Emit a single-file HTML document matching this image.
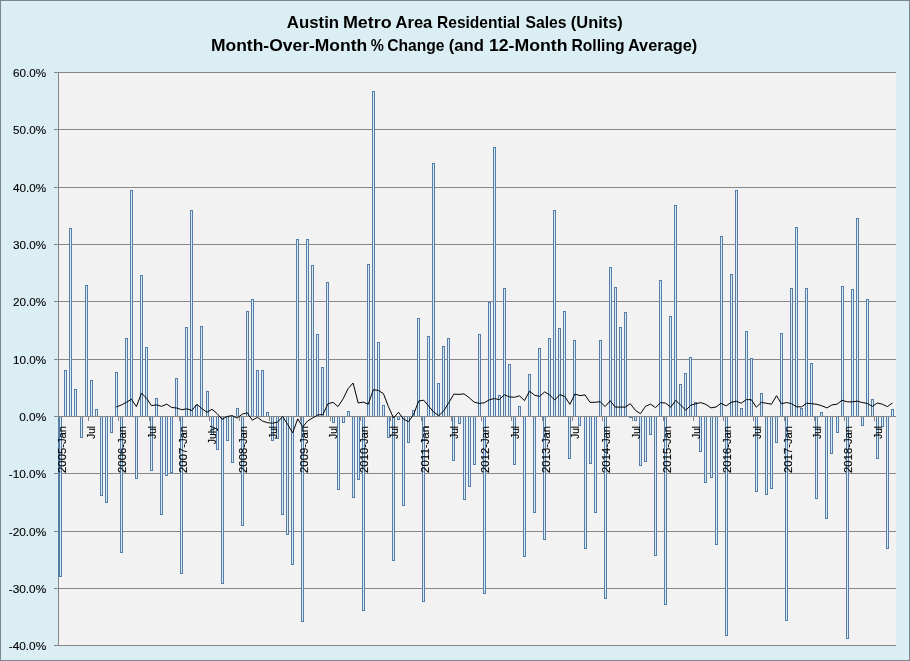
<!DOCTYPE html>
<html><head><meta charset="utf-8"><title>Austin Metro Area Residential Sales (Units)</title>
<style>html,body{margin:0;padding:0;background:#dbeef4;}body{width:910px;height:661px;overflow:hidden}</style>
</head><body>
<svg width="910" height="661" viewBox="0 0 910 661" style="display:block">
<rect x="0" y="0" width="910" height="661" fill="#7b878b"/>
<rect x="1" y="1" width="908" height="659" fill="#dbeef4"/>
<rect x="58" y="72" width="838" height="574" fill="#f2f2f2"/>
<g shape-rendering="crispEdges">
<rect x="54" y="72" width="842" height="1" fill="#868686"/>
<rect x="54" y="129" width="842" height="1" fill="#868686"/>
<rect x="54" y="187" width="842" height="1" fill="#868686"/>
<rect x="54" y="244" width="842" height="1" fill="#868686"/>
<rect x="54" y="301" width="842" height="1" fill="#868686"/>
<rect x="54" y="359" width="842" height="1" fill="#868686"/>
<rect x="54" y="416" width="842" height="1" fill="#868686"/>
<rect x="54" y="473" width="842" height="1" fill="#868686"/>
<rect x="54" y="531" width="842" height="1" fill="#868686"/>
<rect x="54" y="588" width="842" height="1" fill="#868686"/>
<rect x="54" y="645" width="842" height="1" fill="#868686"/>
<rect x="58" y="72" width="1" height="574" fill="#868686"/>
<rect x="58" y="416" width="1" height="5" fill="#868686"/>
<rect x="88" y="416" width="1" height="5" fill="#868686"/>
<rect x="118" y="416" width="1" height="5" fill="#868686"/>
<rect x="149" y="416" width="1" height="5" fill="#868686"/>
<rect x="179" y="416" width="1" height="5" fill="#868686"/>
<rect x="209" y="416" width="1" height="5" fill="#868686"/>
<rect x="239" y="416" width="1" height="5" fill="#868686"/>
<rect x="269" y="416" width="1" height="5" fill="#868686"/>
<rect x="300" y="416" width="1" height="5" fill="#868686"/>
<rect x="330" y="416" width="1" height="5" fill="#868686"/>
<rect x="360" y="416" width="1" height="5" fill="#868686"/>
<rect x="390" y="416" width="1" height="5" fill="#868686"/>
<rect x="421" y="416" width="1" height="5" fill="#868686"/>
<rect x="451" y="416" width="1" height="5" fill="#868686"/>
<rect x="481" y="416" width="1" height="5" fill="#868686"/>
<rect x="511" y="416" width="1" height="5" fill="#868686"/>
<rect x="542" y="416" width="1" height="5" fill="#868686"/>
<rect x="572" y="416" width="1" height="5" fill="#868686"/>
<rect x="602" y="416" width="1" height="5" fill="#868686"/>
<rect x="632" y="416" width="1" height="5" fill="#868686"/>
<rect x="663" y="416" width="1" height="5" fill="#868686"/>
<rect x="693" y="416" width="1" height="5" fill="#868686"/>
<rect x="723" y="416" width="1" height="5" fill="#868686"/>
<rect x="753" y="416" width="1" height="5" fill="#868686"/>
<rect x="784" y="416" width="1" height="5" fill="#868686"/>
<rect x="814" y="416" width="1" height="5" fill="#868686"/>
<rect x="844" y="416" width="1" height="5" fill="#868686"/>
<rect x="874" y="416" width="1" height="5" fill="#868686"/>
<rect x="59" y="417" width="3" height="160" fill="#577da7"/>
<rect x="60" y="417" width="1" height="159" fill="#d0ecfa"/>
<rect x="58" y="417" width="1" height="160" fill="#577da7"/>
<rect x="64" y="370" width="3" height="46" fill="#577da7"/>
<rect x="65" y="371" width="1" height="45" fill="#d0ecfa"/>
<rect x="69" y="228" width="3" height="188" fill="#577da7"/>
<rect x="70" y="229" width="1" height="187" fill="#d0ecfa"/>
<rect x="74" y="389" width="3" height="27" fill="#577da7"/>
<rect x="75" y="390" width="1" height="26" fill="#d0ecfa"/>
<rect x="80" y="417" width="3" height="21" fill="#577da7"/>
<rect x="81" y="417" width="1" height="20" fill="#d0ecfa"/>
<rect x="85" y="285" width="3" height="131" fill="#577da7"/>
<rect x="86" y="286" width="1" height="130" fill="#d0ecfa"/>
<rect x="90" y="380" width="3" height="36" fill="#577da7"/>
<rect x="91" y="381" width="1" height="35" fill="#d0ecfa"/>
<rect x="95" y="409" width="3" height="7" fill="#577da7"/>
<rect x="96" y="410" width="1" height="6" fill="#d0ecfa"/>
<rect x="100" y="417" width="3" height="79" fill="#577da7"/>
<rect x="101" y="417" width="1" height="78" fill="#d0ecfa"/>
<rect x="105" y="417" width="3" height="86" fill="#577da7"/>
<rect x="106" y="417" width="1" height="85" fill="#d0ecfa"/>
<rect x="110" y="417" width="3" height="16" fill="#577da7"/>
<rect x="111" y="417" width="1" height="15" fill="#d0ecfa"/>
<rect x="115" y="372" width="3" height="44" fill="#577da7"/>
<rect x="116" y="373" width="1" height="43" fill="#d0ecfa"/>
<rect x="120" y="417" width="3" height="136" fill="#577da7"/>
<rect x="121" y="417" width="1" height="135" fill="#d0ecfa"/>
<rect x="125" y="338" width="3" height="78" fill="#577da7"/>
<rect x="126" y="339" width="1" height="77" fill="#d0ecfa"/>
<rect x="130" y="190" width="3" height="226" fill="#577da7"/>
<rect x="131" y="191" width="1" height="225" fill="#d0ecfa"/>
<rect x="135" y="417" width="3" height="62" fill="#577da7"/>
<rect x="136" y="417" width="1" height="61" fill="#d0ecfa"/>
<rect x="140" y="275" width="3" height="141" fill="#577da7"/>
<rect x="141" y="276" width="1" height="140" fill="#d0ecfa"/>
<rect x="145" y="347" width="3" height="69" fill="#577da7"/>
<rect x="146" y="348" width="1" height="68" fill="#d0ecfa"/>
<rect x="150" y="417" width="3" height="54" fill="#577da7"/>
<rect x="151" y="417" width="1" height="53" fill="#d0ecfa"/>
<rect x="155" y="398" width="3" height="18" fill="#577da7"/>
<rect x="156" y="399" width="1" height="17" fill="#d0ecfa"/>
<rect x="160" y="417" width="3" height="98" fill="#577da7"/>
<rect x="161" y="417" width="1" height="97" fill="#d0ecfa"/>
<rect x="165" y="417" width="3" height="59" fill="#577da7"/>
<rect x="166" y="417" width="1" height="58" fill="#d0ecfa"/>
<rect x="170" y="417" width="3" height="56" fill="#577da7"/>
<rect x="171" y="417" width="1" height="55" fill="#d0ecfa"/>
<rect x="175" y="378" width="3" height="38" fill="#577da7"/>
<rect x="176" y="379" width="1" height="37" fill="#d0ecfa"/>
<rect x="180" y="417" width="3" height="157" fill="#577da7"/>
<rect x="181" y="417" width="1" height="156" fill="#d0ecfa"/>
<rect x="185" y="327" width="3" height="89" fill="#577da7"/>
<rect x="186" y="328" width="1" height="88" fill="#d0ecfa"/>
<rect x="190" y="210" width="3" height="206" fill="#577da7"/>
<rect x="191" y="211" width="1" height="205" fill="#d0ecfa"/>
<rect x="195" y="405" width="3" height="11" fill="#577da7"/>
<rect x="196" y="406" width="1" height="10" fill="#d0ecfa"/>
<rect x="200" y="326" width="3" height="90" fill="#577da7"/>
<rect x="201" y="327" width="1" height="89" fill="#d0ecfa"/>
<rect x="206" y="391" width="3" height="25" fill="#577da7"/>
<rect x="207" y="392" width="1" height="24" fill="#d0ecfa"/>
<rect x="211" y="417" width="3" height="18" fill="#577da7"/>
<rect x="212" y="417" width="1" height="17" fill="#d0ecfa"/>
<rect x="216" y="417" width="3" height="33" fill="#577da7"/>
<rect x="217" y="417" width="1" height="32" fill="#d0ecfa"/>
<rect x="221" y="417" width="3" height="167" fill="#577da7"/>
<rect x="222" y="417" width="1" height="166" fill="#d0ecfa"/>
<rect x="226" y="417" width="3" height="24" fill="#577da7"/>
<rect x="227" y="417" width="1" height="23" fill="#d0ecfa"/>
<rect x="231" y="417" width="3" height="46" fill="#577da7"/>
<rect x="232" y="417" width="1" height="45" fill="#d0ecfa"/>
<rect x="236" y="408" width="3" height="8" fill="#577da7"/>
<rect x="237" y="409" width="1" height="7" fill="#d0ecfa"/>
<rect x="241" y="417" width="3" height="109" fill="#577da7"/>
<rect x="242" y="417" width="1" height="108" fill="#d0ecfa"/>
<rect x="246" y="311" width="3" height="105" fill="#577da7"/>
<rect x="247" y="312" width="1" height="104" fill="#d0ecfa"/>
<rect x="251" y="299" width="3" height="117" fill="#577da7"/>
<rect x="252" y="300" width="1" height="116" fill="#d0ecfa"/>
<rect x="256" y="370" width="3" height="46" fill="#577da7"/>
<rect x="257" y="371" width="1" height="45" fill="#d0ecfa"/>
<rect x="261" y="370" width="3" height="46" fill="#577da7"/>
<rect x="262" y="371" width="1" height="45" fill="#d0ecfa"/>
<rect x="266" y="412" width="3" height="4" fill="#577da7"/>
<rect x="267" y="413" width="1" height="3" fill="#d0ecfa"/>
<rect x="271" y="417" width="3" height="24" fill="#577da7"/>
<rect x="272" y="417" width="1" height="23" fill="#d0ecfa"/>
<rect x="276" y="417" width="3" height="22" fill="#577da7"/>
<rect x="277" y="417" width="1" height="21" fill="#d0ecfa"/>
<rect x="281" y="417" width="3" height="98" fill="#577da7"/>
<rect x="282" y="417" width="1" height="97" fill="#d0ecfa"/>
<rect x="286" y="417" width="3" height="118" fill="#577da7"/>
<rect x="287" y="417" width="1" height="117" fill="#d0ecfa"/>
<rect x="291" y="417" width="3" height="148" fill="#577da7"/>
<rect x="292" y="417" width="1" height="147" fill="#d0ecfa"/>
<rect x="296" y="239" width="3" height="177" fill="#577da7"/>
<rect x="297" y="240" width="1" height="176" fill="#d0ecfa"/>
<rect x="301" y="417" width="3" height="205" fill="#577da7"/>
<rect x="302" y="417" width="1" height="204" fill="#d0ecfa"/>
<rect x="306" y="239" width="3" height="177" fill="#577da7"/>
<rect x="307" y="240" width="1" height="176" fill="#d0ecfa"/>
<rect x="311" y="265" width="3" height="151" fill="#577da7"/>
<rect x="312" y="266" width="1" height="150" fill="#d0ecfa"/>
<rect x="316" y="334" width="3" height="82" fill="#577da7"/>
<rect x="317" y="335" width="1" height="81" fill="#d0ecfa"/>
<rect x="321" y="367" width="3" height="49" fill="#577da7"/>
<rect x="322" y="368" width="1" height="48" fill="#d0ecfa"/>
<rect x="326" y="282" width="3" height="134" fill="#577da7"/>
<rect x="327" y="283" width="1" height="133" fill="#d0ecfa"/>
<rect x="332" y="417" width="3" height="6" fill="#577da7"/>
<rect x="333" y="417" width="1" height="5" fill="#d0ecfa"/>
<rect x="337" y="417" width="3" height="73" fill="#577da7"/>
<rect x="338" y="417" width="1" height="72" fill="#d0ecfa"/>
<rect x="342" y="417" width="3" height="6" fill="#577da7"/>
<rect x="343" y="417" width="1" height="5" fill="#d0ecfa"/>
<rect x="347" y="411" width="3" height="5" fill="#577da7"/>
<rect x="348" y="412" width="1" height="4" fill="#d0ecfa"/>
<rect x="352" y="417" width="3" height="81" fill="#577da7"/>
<rect x="353" y="417" width="1" height="80" fill="#d0ecfa"/>
<rect x="357" y="417" width="3" height="63" fill="#577da7"/>
<rect x="358" y="417" width="1" height="62" fill="#d0ecfa"/>
<rect x="362" y="417" width="3" height="194" fill="#577da7"/>
<rect x="363" y="417" width="1" height="193" fill="#d0ecfa"/>
<rect x="367" y="264" width="3" height="152" fill="#577da7"/>
<rect x="368" y="265" width="1" height="151" fill="#d0ecfa"/>
<rect x="372" y="91" width="3" height="325" fill="#577da7"/>
<rect x="373" y="92" width="1" height="324" fill="#d0ecfa"/>
<rect x="377" y="342" width="3" height="74" fill="#577da7"/>
<rect x="378" y="343" width="1" height="73" fill="#d0ecfa"/>
<rect x="382" y="405" width="3" height="11" fill="#577da7"/>
<rect x="383" y="406" width="1" height="10" fill="#d0ecfa"/>
<rect x="387" y="417" width="3" height="21" fill="#577da7"/>
<rect x="388" y="417" width="1" height="20" fill="#d0ecfa"/>
<rect x="392" y="417" width="3" height="144" fill="#577da7"/>
<rect x="393" y="417" width="1" height="143" fill="#d0ecfa"/>
<rect x="397" y="417" width="3" height="3" fill="#577da7"/>
<rect x="398" y="417" width="1" height="2" fill="#d0ecfa"/>
<rect x="402" y="417" width="3" height="89" fill="#577da7"/>
<rect x="403" y="417" width="1" height="88" fill="#d0ecfa"/>
<rect x="407" y="417" width="3" height="26" fill="#577da7"/>
<rect x="408" y="417" width="1" height="25" fill="#d0ecfa"/>
<rect x="412" y="410" width="3" height="6" fill="#577da7"/>
<rect x="413" y="411" width="1" height="5" fill="#d0ecfa"/>
<rect x="417" y="318" width="3" height="98" fill="#577da7"/>
<rect x="418" y="319" width="1" height="97" fill="#d0ecfa"/>
<rect x="422" y="417" width="3" height="185" fill="#577da7"/>
<rect x="423" y="417" width="1" height="184" fill="#d0ecfa"/>
<rect x="427" y="336" width="3" height="80" fill="#577da7"/>
<rect x="428" y="337" width="1" height="79" fill="#d0ecfa"/>
<rect x="432" y="163" width="3" height="253" fill="#577da7"/>
<rect x="433" y="164" width="1" height="252" fill="#d0ecfa"/>
<rect x="437" y="383" width="3" height="33" fill="#577da7"/>
<rect x="438" y="384" width="1" height="32" fill="#d0ecfa"/>
<rect x="442" y="346" width="3" height="70" fill="#577da7"/>
<rect x="443" y="347" width="1" height="69" fill="#d0ecfa"/>
<rect x="447" y="338" width="3" height="78" fill="#577da7"/>
<rect x="448" y="339" width="1" height="77" fill="#d0ecfa"/>
<rect x="452" y="417" width="3" height="44" fill="#577da7"/>
<rect x="453" y="417" width="1" height="43" fill="#d0ecfa"/>
<rect x="458" y="417" width="3" height="7" fill="#577da7"/>
<rect x="459" y="417" width="1" height="6" fill="#d0ecfa"/>
<rect x="463" y="417" width="3" height="83" fill="#577da7"/>
<rect x="464" y="417" width="1" height="82" fill="#d0ecfa"/>
<rect x="468" y="417" width="3" height="70" fill="#577da7"/>
<rect x="469" y="417" width="1" height="69" fill="#d0ecfa"/>
<rect x="473" y="417" width="3" height="48" fill="#577da7"/>
<rect x="474" y="417" width="1" height="47" fill="#d0ecfa"/>
<rect x="478" y="334" width="3" height="82" fill="#577da7"/>
<rect x="479" y="335" width="1" height="81" fill="#d0ecfa"/>
<rect x="483" y="417" width="3" height="177" fill="#577da7"/>
<rect x="484" y="417" width="1" height="176" fill="#d0ecfa"/>
<rect x="488" y="302" width="3" height="114" fill="#577da7"/>
<rect x="489" y="303" width="1" height="113" fill="#d0ecfa"/>
<rect x="493" y="147" width="3" height="269" fill="#577da7"/>
<rect x="494" y="148" width="1" height="268" fill="#d0ecfa"/>
<rect x="498" y="395" width="3" height="21" fill="#577da7"/>
<rect x="499" y="396" width="1" height="20" fill="#d0ecfa"/>
<rect x="503" y="288" width="3" height="128" fill="#577da7"/>
<rect x="504" y="289" width="1" height="127" fill="#d0ecfa"/>
<rect x="508" y="364" width="3" height="52" fill="#577da7"/>
<rect x="509" y="365" width="1" height="51" fill="#d0ecfa"/>
<rect x="513" y="417" width="3" height="48" fill="#577da7"/>
<rect x="514" y="417" width="1" height="47" fill="#d0ecfa"/>
<rect x="518" y="406" width="3" height="10" fill="#577da7"/>
<rect x="519" y="407" width="1" height="9" fill="#d0ecfa"/>
<rect x="523" y="417" width="3" height="140" fill="#577da7"/>
<rect x="524" y="417" width="1" height="139" fill="#d0ecfa"/>
<rect x="528" y="374" width="3" height="42" fill="#577da7"/>
<rect x="529" y="375" width="1" height="41" fill="#d0ecfa"/>
<rect x="533" y="417" width="3" height="96" fill="#577da7"/>
<rect x="534" y="417" width="1" height="95" fill="#d0ecfa"/>
<rect x="538" y="348" width="3" height="68" fill="#577da7"/>
<rect x="539" y="349" width="1" height="67" fill="#d0ecfa"/>
<rect x="543" y="417" width="3" height="123" fill="#577da7"/>
<rect x="544" y="417" width="1" height="122" fill="#d0ecfa"/>
<rect x="548" y="338" width="3" height="78" fill="#577da7"/>
<rect x="549" y="339" width="1" height="77" fill="#d0ecfa"/>
<rect x="553" y="210" width="3" height="206" fill="#577da7"/>
<rect x="554" y="211" width="1" height="205" fill="#d0ecfa"/>
<rect x="558" y="328" width="3" height="88" fill="#577da7"/>
<rect x="559" y="329" width="1" height="87" fill="#d0ecfa"/>
<rect x="563" y="311" width="3" height="105" fill="#577da7"/>
<rect x="564" y="312" width="1" height="104" fill="#d0ecfa"/>
<rect x="568" y="417" width="3" height="42" fill="#577da7"/>
<rect x="569" y="417" width="1" height="41" fill="#d0ecfa"/>
<rect x="573" y="340" width="3" height="76" fill="#577da7"/>
<rect x="574" y="341" width="1" height="75" fill="#d0ecfa"/>
<rect x="578" y="417" width="3" height="9" fill="#577da7"/>
<rect x="579" y="417" width="1" height="8" fill="#d0ecfa"/>
<rect x="584" y="417" width="3" height="132" fill="#577da7"/>
<rect x="585" y="417" width="1" height="131" fill="#d0ecfa"/>
<rect x="589" y="417" width="3" height="47" fill="#577da7"/>
<rect x="590" y="417" width="1" height="46" fill="#d0ecfa"/>
<rect x="594" y="417" width="3" height="96" fill="#577da7"/>
<rect x="595" y="417" width="1" height="95" fill="#d0ecfa"/>
<rect x="599" y="340" width="3" height="76" fill="#577da7"/>
<rect x="600" y="341" width="1" height="75" fill="#d0ecfa"/>
<rect x="604" y="417" width="3" height="182" fill="#577da7"/>
<rect x="605" y="417" width="1" height="181" fill="#d0ecfa"/>
<rect x="609" y="267" width="3" height="149" fill="#577da7"/>
<rect x="610" y="268" width="1" height="148" fill="#d0ecfa"/>
<rect x="614" y="287" width="3" height="129" fill="#577da7"/>
<rect x="615" y="288" width="1" height="128" fill="#d0ecfa"/>
<rect x="619" y="327" width="3" height="89" fill="#577da7"/>
<rect x="620" y="328" width="1" height="88" fill="#d0ecfa"/>
<rect x="624" y="312" width="3" height="104" fill="#577da7"/>
<rect x="625" y="313" width="1" height="103" fill="#d0ecfa"/>
<rect x="629" y="417" width="3" height="1" fill="#577da7"/>
<rect x="634" y="417" width="3" height="4" fill="#577da7"/>
<rect x="635" y="417" width="1" height="3" fill="#d0ecfa"/>
<rect x="639" y="417" width="3" height="49" fill="#577da7"/>
<rect x="640" y="417" width="1" height="48" fill="#d0ecfa"/>
<rect x="644" y="417" width="3" height="45" fill="#577da7"/>
<rect x="645" y="417" width="1" height="44" fill="#d0ecfa"/>
<rect x="649" y="417" width="3" height="18" fill="#577da7"/>
<rect x="650" y="417" width="1" height="17" fill="#d0ecfa"/>
<rect x="654" y="417" width="3" height="139" fill="#577da7"/>
<rect x="655" y="417" width="1" height="138" fill="#d0ecfa"/>
<rect x="659" y="280" width="3" height="136" fill="#577da7"/>
<rect x="660" y="281" width="1" height="135" fill="#d0ecfa"/>
<rect x="664" y="417" width="3" height="188" fill="#577da7"/>
<rect x="665" y="417" width="1" height="187" fill="#d0ecfa"/>
<rect x="669" y="316" width="3" height="100" fill="#577da7"/>
<rect x="670" y="317" width="1" height="99" fill="#d0ecfa"/>
<rect x="674" y="205" width="3" height="211" fill="#577da7"/>
<rect x="675" y="206" width="1" height="210" fill="#d0ecfa"/>
<rect x="679" y="384" width="3" height="32" fill="#577da7"/>
<rect x="680" y="385" width="1" height="31" fill="#d0ecfa"/>
<rect x="684" y="373" width="3" height="43" fill="#577da7"/>
<rect x="685" y="374" width="1" height="42" fill="#d0ecfa"/>
<rect x="689" y="357" width="3" height="59" fill="#577da7"/>
<rect x="690" y="358" width="1" height="58" fill="#d0ecfa"/>
<rect x="694" y="402" width="3" height="14" fill="#577da7"/>
<rect x="695" y="403" width="1" height="13" fill="#d0ecfa"/>
<rect x="699" y="417" width="3" height="35" fill="#577da7"/>
<rect x="700" y="417" width="1" height="34" fill="#d0ecfa"/>
<rect x="704" y="417" width="3" height="66" fill="#577da7"/>
<rect x="705" y="417" width="1" height="65" fill="#d0ecfa"/>
<rect x="710" y="417" width="3" height="61" fill="#577da7"/>
<rect x="711" y="417" width="1" height="60" fill="#d0ecfa"/>
<rect x="715" y="417" width="3" height="128" fill="#577da7"/>
<rect x="716" y="417" width="1" height="127" fill="#d0ecfa"/>
<rect x="720" y="236" width="3" height="180" fill="#577da7"/>
<rect x="721" y="237" width="1" height="179" fill="#d0ecfa"/>
<rect x="725" y="417" width="3" height="219" fill="#577da7"/>
<rect x="726" y="417" width="1" height="218" fill="#d0ecfa"/>
<rect x="730" y="274" width="3" height="142" fill="#577da7"/>
<rect x="731" y="275" width="1" height="141" fill="#d0ecfa"/>
<rect x="735" y="190" width="3" height="226" fill="#577da7"/>
<rect x="736" y="191" width="1" height="225" fill="#d0ecfa"/>
<rect x="740" y="408" width="3" height="8" fill="#577da7"/>
<rect x="741" y="409" width="1" height="7" fill="#d0ecfa"/>
<rect x="745" y="331" width="3" height="85" fill="#577da7"/>
<rect x="746" y="332" width="1" height="84" fill="#d0ecfa"/>
<rect x="750" y="358" width="3" height="58" fill="#577da7"/>
<rect x="751" y="359" width="1" height="57" fill="#d0ecfa"/>
<rect x="755" y="417" width="3" height="75" fill="#577da7"/>
<rect x="756" y="417" width="1" height="74" fill="#d0ecfa"/>
<rect x="760" y="393" width="3" height="23" fill="#577da7"/>
<rect x="761" y="394" width="1" height="22" fill="#d0ecfa"/>
<rect x="765" y="417" width="3" height="78" fill="#577da7"/>
<rect x="766" y="417" width="1" height="77" fill="#d0ecfa"/>
<rect x="770" y="417" width="3" height="72" fill="#577da7"/>
<rect x="771" y="417" width="1" height="71" fill="#d0ecfa"/>
<rect x="775" y="417" width="3" height="26" fill="#577da7"/>
<rect x="776" y="417" width="1" height="25" fill="#d0ecfa"/>
<rect x="780" y="333" width="3" height="83" fill="#577da7"/>
<rect x="781" y="334" width="1" height="82" fill="#d0ecfa"/>
<rect x="785" y="417" width="3" height="204" fill="#577da7"/>
<rect x="786" y="417" width="1" height="203" fill="#d0ecfa"/>
<rect x="790" y="288" width="3" height="128" fill="#577da7"/>
<rect x="791" y="289" width="1" height="127" fill="#d0ecfa"/>
<rect x="795" y="227" width="3" height="189" fill="#577da7"/>
<rect x="796" y="228" width="1" height="188" fill="#d0ecfa"/>
<rect x="800" y="408" width="3" height="8" fill="#577da7"/>
<rect x="801" y="409" width="1" height="7" fill="#d0ecfa"/>
<rect x="805" y="288" width="3" height="128" fill="#577da7"/>
<rect x="806" y="289" width="1" height="127" fill="#d0ecfa"/>
<rect x="810" y="363" width="3" height="53" fill="#577da7"/>
<rect x="811" y="364" width="1" height="52" fill="#d0ecfa"/>
<rect x="815" y="417" width="3" height="82" fill="#577da7"/>
<rect x="816" y="417" width="1" height="81" fill="#d0ecfa"/>
<rect x="820" y="412" width="3" height="4" fill="#577da7"/>
<rect x="821" y="413" width="1" height="3" fill="#d0ecfa"/>
<rect x="825" y="417" width="3" height="102" fill="#577da7"/>
<rect x="826" y="417" width="1" height="101" fill="#d0ecfa"/>
<rect x="830" y="417" width="3" height="37" fill="#577da7"/>
<rect x="831" y="417" width="1" height="36" fill="#d0ecfa"/>
<rect x="836" y="417" width="3" height="16" fill="#577da7"/>
<rect x="837" y="417" width="1" height="15" fill="#d0ecfa"/>
<rect x="841" y="286" width="3" height="130" fill="#577da7"/>
<rect x="842" y="287" width="1" height="129" fill="#d0ecfa"/>
<rect x="846" y="417" width="3" height="222" fill="#577da7"/>
<rect x="847" y="417" width="1" height="221" fill="#d0ecfa"/>
<rect x="851" y="289" width="3" height="127" fill="#577da7"/>
<rect x="852" y="290" width="1" height="126" fill="#d0ecfa"/>
<rect x="856" y="218" width="3" height="198" fill="#577da7"/>
<rect x="857" y="219" width="1" height="197" fill="#d0ecfa"/>
<rect x="861" y="417" width="3" height="9" fill="#577da7"/>
<rect x="862" y="417" width="1" height="8" fill="#d0ecfa"/>
<rect x="866" y="299" width="3" height="117" fill="#577da7"/>
<rect x="867" y="300" width="1" height="116" fill="#d0ecfa"/>
<rect x="871" y="399" width="3" height="17" fill="#577da7"/>
<rect x="872" y="400" width="1" height="16" fill="#d0ecfa"/>
<rect x="876" y="417" width="3" height="42" fill="#577da7"/>
<rect x="877" y="417" width="1" height="41" fill="#d0ecfa"/>
<rect x="881" y="417" width="3" height="10" fill="#577da7"/>
<rect x="882" y="417" width="1" height="9" fill="#d0ecfa"/>
<rect x="886" y="417" width="3" height="132" fill="#577da7"/>
<rect x="887" y="417" width="1" height="131" fill="#d0ecfa"/>
<rect x="891" y="409" width="3" height="7" fill="#577da7"/>
<rect x="892" y="410" width="1" height="6" fill="#d0ecfa"/>
</g>
<polyline points="116.3,407.0 121.3,405.0 126.3,402.4 131.4,399.2 136.4,406.6 141.5,393.1 146.5,398.2 151.5,405.7 156.6,404.8 161.6,406.4 166.7,404.1 171.7,407.5 176.7,408.0 181.8,409.7 186.8,408.8 191.9,410.4 196.9,404.3 201.9,408.6 207.0,412.3 212.0,409.3 217.1,413.6 222.1,419.3 227.1,416.5 232.2,415.6 237.2,418.1 242.3,414.1 247.3,412.8 252.3,420.2 257.4,417.3 262.4,421.0 267.5,422.7 272.5,423.2 277.5,422.2 282.6,416.5 287.6,424.3 292.7,432.9 297.7,418.8 302.7,426.8 307.8,420.8 312.8,417.9 317.9,414.9 322.9,414.6 327.9,403.8 333.0,402.3 338.0,406.6 343.1,398.9 348.1,388.6 353.1,383.0 358.2,403.0 363.2,402.1 368.3,404.2 373.3,389.7 378.3,390.4 383.4,393.6 388.4,406.5 393.5,418.0 398.5,412.2 403.5,419.1 408.6,421.7 413.6,414.4 418.7,401.0 423.7,400.2 428.7,406.2 433.8,412.2 438.8,415.6 443.9,410.7 448.9,402.4 453.9,394.1 459.0,394.4 464.0,393.9 469.1,397.6 474.1,402.1 479.1,403.4 484.2,402.8 489.2,399.9 494.3,398.6 499.3,399.6 504.3,394.8 509.4,396.9 514.4,397.3 519.5,395.8 524.5,400.6 529.5,391.2 534.6,395.2 539.6,396.4 544.7,391.9 549.7,394.9 554.7,400.1 559.8,394.6 564.8,396.5 569.9,404.4 574.9,394.0 579.9,395.6 585.0,394.9 590.0,402.3 595.1,402.3 600.1,401.7 605.1,406.6 610.2,400.7 615.2,407.1 620.3,407.1 625.3,407.1 630.3,403.7 635.4,410.4 640.4,413.7 645.5,406.4 650.5,404.1 655.5,407.6 660.6,402.6 665.6,403.1 670.7,407.2 675.7,400.4 680.7,405.1 685.8,410.2 690.8,405.2 695.9,403.7 700.9,402.6 705.9,404.4 711.0,407.9 716.0,407.0 721.1,403.3 726.1,405.9 731.1,402.4 736.2,401.2 741.2,403.2 746.3,399.6 751.3,399.7 756.3,407.2 761.4,402.3 766.4,403.3 771.5,404.2 776.5,395.7 781.5,403.8 786.6,402.5 791.6,403.7 796.7,406.8 801.7,406.8 806.7,403.2 811.8,403.7 816.8,404.3 821.9,405.8 826.9,407.9 831.9,404.9 837.0,404.2 842.0,400.3 847.1,401.8 852.1,401.9 857.1,401.1 862.2,402.5 867.2,403.4 872.3,406.4 877.3,403.0 882.3,404.2 887.4,406.6 892.4,403.0" fill="none" stroke="#000" stroke-width="1.0" stroke-linejoin="round"/>
<text y="27.8" font-family="Liberation Sans, sans-serif" font-size="16.6" font-weight="bold" fill="#000"><tspan x="286.89" textLength="52.24" lengthAdjust="spacingAndGlyphs">Austin</tspan> <tspan x="342.92" textLength="48.81" lengthAdjust="spacingAndGlyphs">Metro</tspan> <tspan x="395.5" textLength="36.81" lengthAdjust="spacingAndGlyphs">Area</tspan> <tspan x="437.06" textLength="82.9" lengthAdjust="spacingAndGlyphs">Residential</tspan> <tspan x="525.53" textLength="41.07" lengthAdjust="spacingAndGlyphs">Sales</tspan> <tspan x="570.86" textLength="51.93" lengthAdjust="spacingAndGlyphs">(Units)</tspan></text>
<text y="50.6" font-family="Liberation Sans, sans-serif" font-size="16.6" font-weight="bold" fill="#000"><tspan x="210.95" textLength="156.25" lengthAdjust="spacingAndGlyphs">Month-Over-Month</tspan> <tspan x="370.76" textLength="13.1" lengthAdjust="spacingAndGlyphs">%</tspan> <tspan x="387.29" textLength="57.28" lengthAdjust="spacingAndGlyphs">Change</tspan> <tspan x="448.65" textLength="35.19" lengthAdjust="spacingAndGlyphs">(and</tspan> <tspan x="488.94" textLength="78.53" lengthAdjust="spacingAndGlyphs">12-Month</tspan> <tspan x="571.46" textLength="53.11" lengthAdjust="spacingAndGlyphs">Rolling</tspan> <tspan x="627.91" textLength="69.39" lengthAdjust="spacingAndGlyphs">Average)</tspan></text>
<text x="13.1" y="77.0" font-family="Liberation Sans, sans-serif" font-size="11.7" fill="#000" stroke="#000" stroke-width="0.12" textLength="33.1" lengthAdjust="spacingAndGlyphs">60.0%</text>
<text x="13.1" y="134.0" font-family="Liberation Sans, sans-serif" font-size="11.7" fill="#000" stroke="#000" stroke-width="0.12" textLength="33.1" lengthAdjust="spacingAndGlyphs">50.0%</text>
<text x="13.1" y="192.0" font-family="Liberation Sans, sans-serif" font-size="11.7" fill="#000" stroke="#000" stroke-width="0.12" textLength="33.1" lengthAdjust="spacingAndGlyphs">40.0%</text>
<text x="13.1" y="249.0" font-family="Liberation Sans, sans-serif" font-size="11.7" fill="#000" stroke="#000" stroke-width="0.12" textLength="33.1" lengthAdjust="spacingAndGlyphs">30.0%</text>
<text x="13.1" y="306.0" font-family="Liberation Sans, sans-serif" font-size="11.7" fill="#000" stroke="#000" stroke-width="0.12" textLength="33.1" lengthAdjust="spacingAndGlyphs">20.0%</text>
<text x="13.1" y="364.0" font-family="Liberation Sans, sans-serif" font-size="11.7" fill="#000" stroke="#000" stroke-width="0.12" textLength="33.1" lengthAdjust="spacingAndGlyphs">10.0%</text>
<text x="19.2" y="421.0" font-family="Liberation Sans, sans-serif" font-size="11.7" fill="#000" stroke="#000" stroke-width="0.12" textLength="27.0" lengthAdjust="spacingAndGlyphs">0.0%</text>
<text x="8.7" y="478.0" font-family="Liberation Sans, sans-serif" font-size="11.7" fill="#000" stroke="#000" stroke-width="0.12" textLength="37.5" lengthAdjust="spacingAndGlyphs">-10.0%</text>
<text x="8.7" y="536.0" font-family="Liberation Sans, sans-serif" font-size="11.7" fill="#000" stroke="#000" stroke-width="0.12" textLength="37.5" lengthAdjust="spacingAndGlyphs">-20.0%</text>
<text x="8.7" y="593.0" font-family="Liberation Sans, sans-serif" font-size="11.7" fill="#000" stroke="#000" stroke-width="0.12" textLength="37.5" lengthAdjust="spacingAndGlyphs">-30.0%</text>
<text x="8.7" y="650.0" font-family="Liberation Sans, sans-serif" font-size="11.7" fill="#000" stroke="#000" stroke-width="0.12" textLength="37.5" lengthAdjust="spacingAndGlyphs">-40.0%</text>
<text transform="translate(65.9,472.9) rotate(-90)" font-family="Liberation Sans, sans-serif" font-size="11.7" fill="#000" stroke="#000" stroke-width="0.12" textLength="47.0" lengthAdjust="spacingAndGlyphs">2005-Jan</text>
<text transform="translate(95.4,438.7) rotate(-90)" font-family="Liberation Sans, sans-serif" font-size="11.7" fill="#000" stroke="#000" stroke-width="0.12" textLength="12.8" lengthAdjust="spacingAndGlyphs">Jul</text>
<text transform="translate(126.4,472.9) rotate(-90)" font-family="Liberation Sans, sans-serif" font-size="11.7" fill="#000" stroke="#000" stroke-width="0.12" textLength="47.0" lengthAdjust="spacingAndGlyphs">2006-Jan</text>
<text transform="translate(155.8,438.7) rotate(-90)" font-family="Liberation Sans, sans-serif" font-size="11.7" fill="#000" stroke="#000" stroke-width="0.12" textLength="12.8" lengthAdjust="spacingAndGlyphs">Jul</text>
<text transform="translate(186.9,472.9) rotate(-90)" font-family="Liberation Sans, sans-serif" font-size="11.7" fill="#000" stroke="#000" stroke-width="0.12" textLength="47.0" lengthAdjust="spacingAndGlyphs">2007-Jan</text>
<text transform="translate(216.3,444.2) rotate(-90)" font-family="Liberation Sans, sans-serif" font-size="11.7" fill="#000" stroke="#000" stroke-width="0.12" textLength="18.3" lengthAdjust="spacingAndGlyphs">July</text>
<text transform="translate(247.4,472.9) rotate(-90)" font-family="Liberation Sans, sans-serif" font-size="11.7" fill="#000" stroke="#000" stroke-width="0.12" textLength="47.0" lengthAdjust="spacingAndGlyphs">2008-Jan</text>
<text transform="translate(276.8,438.7) rotate(-90)" font-family="Liberation Sans, sans-serif" font-size="11.7" fill="#000" stroke="#000" stroke-width="0.12" textLength="12.8" lengthAdjust="spacingAndGlyphs">Jul</text>
<text transform="translate(307.8,472.9) rotate(-90)" font-family="Liberation Sans, sans-serif" font-size="11.7" fill="#000" stroke="#000" stroke-width="0.12" textLength="47.0" lengthAdjust="spacingAndGlyphs">2009-Jan</text>
<text transform="translate(337.3,438.7) rotate(-90)" font-family="Liberation Sans, sans-serif" font-size="11.7" fill="#000" stroke="#000" stroke-width="0.12" textLength="12.8" lengthAdjust="spacingAndGlyphs">Jul</text>
<text transform="translate(368.3,472.9) rotate(-90)" font-family="Liberation Sans, sans-serif" font-size="11.7" fill="#000" stroke="#000" stroke-width="0.12" textLength="47.0" lengthAdjust="spacingAndGlyphs">2010-Jan</text>
<text transform="translate(397.8,438.7) rotate(-90)" font-family="Liberation Sans, sans-serif" font-size="11.7" fill="#000" stroke="#000" stroke-width="0.12" textLength="12.8" lengthAdjust="spacingAndGlyphs">Jul</text>
<text transform="translate(428.8,472.9) rotate(-90)" font-family="Liberation Sans, sans-serif" font-size="11.7" fill="#000" stroke="#000" stroke-width="0.12" textLength="47.0" lengthAdjust="spacingAndGlyphs">2011-Jan</text>
<text transform="translate(458.2,438.7) rotate(-90)" font-family="Liberation Sans, sans-serif" font-size="11.7" fill="#000" stroke="#000" stroke-width="0.12" textLength="12.8" lengthAdjust="spacingAndGlyphs">Jul</text>
<text transform="translate(489.3,472.9) rotate(-90)" font-family="Liberation Sans, sans-serif" font-size="11.7" fill="#000" stroke="#000" stroke-width="0.12" textLength="47.0" lengthAdjust="spacingAndGlyphs">2012-Jan</text>
<text transform="translate(518.7,438.7) rotate(-90)" font-family="Liberation Sans, sans-serif" font-size="11.7" fill="#000" stroke="#000" stroke-width="0.12" textLength="12.8" lengthAdjust="spacingAndGlyphs">Jul</text>
<text transform="translate(549.8,472.9) rotate(-90)" font-family="Liberation Sans, sans-serif" font-size="11.7" fill="#000" stroke="#000" stroke-width="0.12" textLength="47.0" lengthAdjust="spacingAndGlyphs">2013-Jan</text>
<text transform="translate(579.2,438.7) rotate(-90)" font-family="Liberation Sans, sans-serif" font-size="11.7" fill="#000" stroke="#000" stroke-width="0.12" textLength="12.8" lengthAdjust="spacingAndGlyphs">Jul</text>
<text transform="translate(610.2,472.9) rotate(-90)" font-family="Liberation Sans, sans-serif" font-size="11.7" fill="#000" stroke="#000" stroke-width="0.12" textLength="47.0" lengthAdjust="spacingAndGlyphs">2014-Jan</text>
<text transform="translate(639.7,438.7) rotate(-90)" font-family="Liberation Sans, sans-serif" font-size="11.7" fill="#000" stroke="#000" stroke-width="0.12" textLength="12.8" lengthAdjust="spacingAndGlyphs">Jul</text>
<text transform="translate(670.7,472.9) rotate(-90)" font-family="Liberation Sans, sans-serif" font-size="11.7" fill="#000" stroke="#000" stroke-width="0.12" textLength="47.0" lengthAdjust="spacingAndGlyphs">2015-Jan</text>
<text transform="translate(700.2,438.7) rotate(-90)" font-family="Liberation Sans, sans-serif" font-size="11.7" fill="#000" stroke="#000" stroke-width="0.12" textLength="12.8" lengthAdjust="spacingAndGlyphs">Jul</text>
<text transform="translate(731.2,472.9) rotate(-90)" font-family="Liberation Sans, sans-serif" font-size="11.7" fill="#000" stroke="#000" stroke-width="0.12" textLength="47.0" lengthAdjust="spacingAndGlyphs">2016-Jan</text>
<text transform="translate(760.6,438.7) rotate(-90)" font-family="Liberation Sans, sans-serif" font-size="11.7" fill="#000" stroke="#000" stroke-width="0.12" textLength="12.8" lengthAdjust="spacingAndGlyphs">Jul</text>
<text transform="translate(791.7,472.9) rotate(-90)" font-family="Liberation Sans, sans-serif" font-size="11.7" fill="#000" stroke="#000" stroke-width="0.12" textLength="47.0" lengthAdjust="spacingAndGlyphs">2017-Jan</text>
<text transform="translate(821.1,438.7) rotate(-90)" font-family="Liberation Sans, sans-serif" font-size="11.7" fill="#000" stroke="#000" stroke-width="0.12" textLength="12.8" lengthAdjust="spacingAndGlyphs">Jul</text>
<text transform="translate(852.2,472.9) rotate(-90)" font-family="Liberation Sans, sans-serif" font-size="11.7" fill="#000" stroke="#000" stroke-width="0.12" textLength="47.0" lengthAdjust="spacingAndGlyphs">2018-Jan</text>
<text transform="translate(881.6,438.7) rotate(-90)" font-family="Liberation Sans, sans-serif" font-size="11.7" fill="#000" stroke="#000" stroke-width="0.12" textLength="12.8" lengthAdjust="spacingAndGlyphs">Jul</text>
</svg>
</body></html>
